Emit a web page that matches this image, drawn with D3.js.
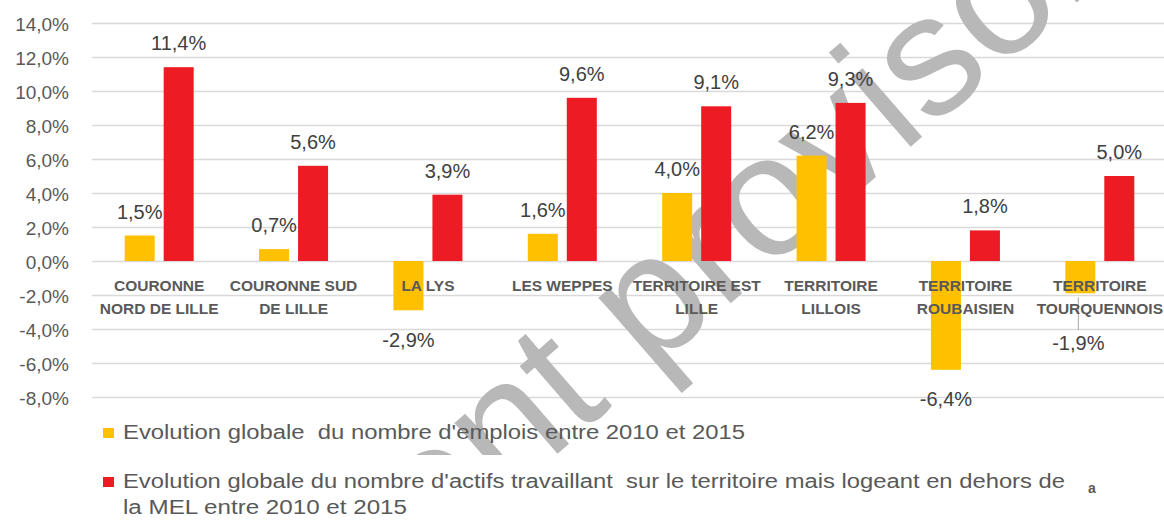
<!DOCTYPE html>
<html>
<head>
<meta charset="utf-8">
<script src="https://cdn.jsdelivr.net/npm/d3@7"></script>
<style>
    body { margin: 0; background: #fff; }
    svg { display: block; font-family: "Liberation Sans", Arial, sans-serif; }
</style>
</head>
<body>
<svg id="chart" width="1164" height="520"></svg>
<script>
// Chart data
var categories = [
    ['COURONNE', 'NORD DE LILLE'],
    ['COURONNE SUD', 'DE LILLE'],
    ['LA LYS'],
    ['LES WEPPES'],
    ['TERRITOIRE EST', 'LILLE'],
    ['TERRITOIRE', 'LILLOIS'],
    ['TERRITOIRE', 'ROUBAISIEN'],
    ['TERRITOIRE', 'TOURQUENNOIS']
];
var emplois = [1.5, 0.7, -2.9, 1.6, 4.0, 6.2, -6.4, -1.9];
var actifs = [11.4, 5.6, 3.9, 9.6, 9.1, 9.3, 1.8, 5.0];
var yTicks = [-8, -6, -4, -2, 0, 2, 4, 6, 8, 10, 12, 14];
var seriesNames = [
    ['Evolution globale  du nombre d\'emplois entre 2010 et 2015'],
    ['Evolution globale du nombre d\'actifs travaillant  sur le territoire mais logeant en dehors de', 'la MEL entre 2010 et 2015']
];
var colors = ['#FFC000', '#ED1C24'];
var watermark = 'Document provisoire';

var svg = d3.select('svg#chart');
var width = 1164;

var margin = {
    top: 23,
    left: 92,
    bottom: 397
};

var y = d3.scaleLinear().domain([-8, 14]).range([margin.bottom, margin.top]);
var x0 = d3.scaleBand().domain(d3.range(categories.length)).range([margin.left, 1167]);
var bw = x0.bandwidth();
var x1 = d3.scaleBand().domain([0, 1]).range([(bw - 69) / 2, (bw + 69) / 2]).paddingInner(0.23);

// french style: comma decimal, plain hyphen for minus
function fmt(v) {
    return d3.format('.1f')(v).replace('.', ',').replace('\u2212', '-') + '%';
}

// gridlines
svg.append('g').selectAll('line')
    .data(yTicks)
    .enter().append('line')
        .attr('x1', margin.left)
        .attr('x2', width)
        .attr('y1', function(d) { return y(d) + 0.5; })
        .attr('y2', function(d) { return y(d) + 0.5; })
        .attr('stroke', '#d9d9d9')
        .attr('stroke-width', 1.3);

// watermark, behind the bars
svg.append('clipPath').attr('id', 'wmClip')
    .append('rect').attr('x', 0).attr('y', 0).attr('width', width).attr('height', 455);
svg.append('g').attr('clip-path', 'url(#wmClip)')
    .append('text')
        .attr('transform', 'translate(617,402) rotate(-41)')
        .attr('text-anchor', 'middle')
        .style('font-size', '172px')
        .attr('fill', '#b8b8b8')
        .text(watermark);

// y tick labels
svg.append('g').selectAll('text')
    .data(yTicks)
    .enter().append('text')
        .attr('x', 69)
        .attr('y', function(d) { return y(d) + 8; })
        .attr('text-anchor', 'end')
        .attr('fill', '#595959')
        .style('font-size', '19px')
        .text(function(d) { return fmt(d); });

// bars
var rows = categories.map(function(c, i) {
    return { i: i, values: [emplois[i], actifs[i]] };
});

var group = svg.append('g').selectAll('.group')
    .data(rows)
    .enter().append('g')
        .attr('class', 'group')
        .attr('transform', function(d) { return 'translate(' + x0(d.i) + ',0)'; });

group.selectAll('rect')
    .data(function(d) { return d.values.map(function(v, s) { return { s: s, v: v }; }); })
    .enter().append('rect')
        .attr('x', function(d) { return x1(d.s); })
        .attr('width', x1.bandwidth())
        .attr('y', function(d) { return y(Math.max(0, d.v)); })
        .attr('height', function(d) { return Math.abs(y(d.v) - y(0)); })
        .attr('fill', function(d) { return colors[d.s]; });

// category labels (drawn over the bars)
var cat = svg.append('g').selectAll('text')
    .data(categories)
    .enter().append('text')
        .attr('text-anchor', 'middle')
        .attr('fill', '#595959')
        .style('font-size', '15.5px')
        .style('font-weight', 'bold')
        .attr('transform', function(d, i) { return 'translate(' + (x0(i) + bw / 2) + ',0)'; });
cat.selectAll('tspan')
    .data(function(d) { return d; })
    .enter().append('tspan')
        .attr('x', 0)
        .attr('y', function(d, j) { return 291 + j * 23; })
        .text(function(d) { return d; });

// data labels
var labels = group.selectAll('.lbl')
    .data(function(d) { return d.values.map(function(v, s) { return { s: s, v: v }; }); })
    .enter().append('g')
        .attr('class', 'lbl');

labels.each(function(d) {
    var g = d3.select(this);
    var cx = x1(d.s) + x1.bandwidth() / 2;
    var by;
    if (d.v >= 0) {
        by = y(d.v) - 17;
    } else {
        by = y(d.v) + 36.5;
        // pushed below the category text, with a leader line
        if (by < 345) {
            by = 350;
            g.append('line')
                .attr('x1', cx - 2).attr('x2', cx - 2)
                .attr('y1', y(d.v) + 4).attr('y2', by - 20)
                .attr('stroke', '#a6a6a6').attr('stroke-width', 1);
            cx = cx - 2;
        }
    }
    g.append('text')
        .attr('x', cx)
        .attr('y', by)
        .attr('text-anchor', 'middle')
        .attr('fill', '#404040')
        .style('font-size', '20px')
        .text(fmt(d.v));
});

// legend
var legend = svg.append('g');
var legendTop = [428, 477];
var legendWidths = [[622], [942, 284]];
seriesNames.forEach(function(lines, s) {
    legend.append('rect')
        .attr('x', 103)
        .attr('y', legendTop[s])
        .attr('width', 11)
        .attr('height', 10)
        .attr('fill', colors[s]);
    lines.forEach(function(t, j) {
        legend.append('text')
            .attr('x', 123)
            .attr('y', legendTop[s] + 11 + j * 26)
            .attr('fill', '#595959')
            .style('font-size', '19.5px')
            .style('white-space', 'pre')
            .attr('textLength', legendWidths[s][j])
            .attr('lengthAdjust', 'spacingAndGlyphs')
            .text(t);
    });
});

// stray letter at the right of the legend
svg.append('text')
    .attr('x', 1088)
    .attr('y', 493)
    .attr('fill', '#595959')
    .style('font-size', '14px')
    .style('font-weight', 'bold')
    .text('a');
</script>
</body>
</html>
